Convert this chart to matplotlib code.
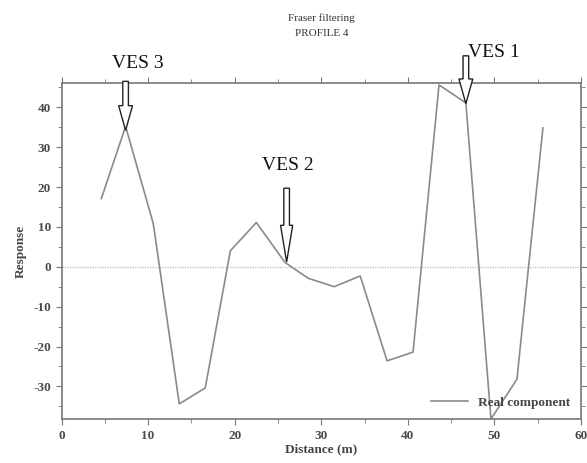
import matplotlib.pyplot as plt
from matplotlib.patches import FancyArrow
from matplotlib.ticker import MultipleLocator

# profile readings (distance in m, real component response)
distance = [4.6, 7.4, 10.6, 13.6, 16.6, 19.5, 22.5, 25.8, 28.5, 31.5,
            34.5, 37.6, 40.6, 43.6, 46.7, 49.6, 52.6, 55.6]
response = [17.1, 35.2, 10.8, -34.4, -30.4, 4.0, 11.1, 1.1, -2.9, -5.0,
            -2.3, -23.6, -21.4, 45.6, 41.1, -38.2, -28.2, 34.8]

# VES station markers: label, arrow x, arrow top, arrow tip
ves_names = ['VES 3', 'VES 2', 'VES 1']
ves_x = [7.4, 26.0, 46.7]
ves_top = [46.5, 19.7, 52.9]
ves_tip = [34.2, 1.2, 40.9]
ves_label_pos = [(8.8, 50.9), (26.2, 25.4), (49.9, 53.7)]

plt.rcParams['font.family'] = ['Liberation Serif', 'DejaVu Serif']
plt.rcParams['axes.unicode_minus'] = False

fig = plt.figure(figsize=(5.87, 4.63), dpi=100)
ax = fig.add_axes([0.1048, 0.094, 0.885, 0.726])

ax.axhline(0, color='#bbbbbb', lw=0.9, ls=(0, (1, 1)), zorder=1)
ax.plot(distance, response, color='#8a8a8a', lw=1.2, label='Real component', zorder=2)

ax.set_xlim(0, 60)
ax.set_ylim(-38.3, 46)
ax.xaxis.set_major_locator(MultipleLocator(10))
ax.xaxis.set_minor_locator(MultipleLocator(5))
ax.yaxis.set_major_locator(MultipleLocator(10))
ax.yaxis.set_minor_locator(MultipleLocator(5))
ax.tick_params(which='both', direction='out', top=True, right=True,
               labeltop=False, labelright=False, color='#777777',
               labelsize=9.5, labelcolor='#4a4a4a')
ax.tick_params(which='major', length=4)
ax.tick_params(which='minor', length=3)
for lbl in ax.get_xticklabels() + ax.get_yticklabels():
    lbl.set_fontweight('bold')
for s in ax.spines.values():
    s.set_color('#777777')
    s.set_linewidth(1.2)

ax.set_xlabel('Distance (m)', fontsize=9.5, fontweight='bold', color='#444444', labelpad=1)
ax.set_ylabel('Response', fontsize=9.5, fontweight='bold', color='#444444', labelpad=5)
ax.set_title('Fraser filtering\nPROFILE 4', fontsize=8, color='#333333', pad=34, linespacing=1.9)

ax.legend(loc='lower right', frameon=False, fontsize=9.5, handlelength=2.8,
          borderaxespad=0.4, labelcolor='#444444',
          prop={'weight': 'bold', 'size': 9.5})

for name, x, top, tip, (lx, ly) in zip(ves_names, ves_x, ves_top, ves_tip, ves_label_pos):
    head = 9.2 if name == 'VES 2' else 6.2
    hw = 1.4 if name == 'VES 2' else 1.6
    arr = FancyArrow(x, top, 0, tip - top, width=0.65, head_width=hw,
                     head_length=head, length_includes_head=True,
                     facecolor='white', edgecolor='#222222', lw=1.0,
                     clip_on=False, zorder=5)
    ax.add_patch(arr)
    ax.text(lx, ly, name, ha='center', va='center', fontsize=14,
            color='#111111', clip_on=False, zorder=6)

fig.savefig('out.png', dpi=100)
